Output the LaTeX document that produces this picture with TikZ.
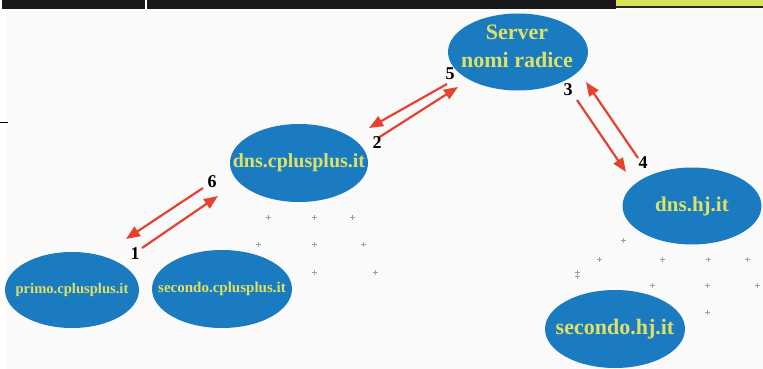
\documentclass[tikz,border=0pt]{standalone}
\usepackage{fontspec}
\setmainfont{Liberation Serif}
\usetikzlibrary{shapes.geometric,arrows.meta}
\definecolor{bg}{HTML}{FAFAFA}
\definecolor{ellblue}{HTML}{1A7BC0}
\definecolor{txtyel}{HTML}{DDE266}
\definecolor{arrred}{HTML}{E4432F}
\definecolor{barylw}{HTML}{D8E25A}
\definecolor{dotgray}{HTML}{A0A0A0}
\tikzset{
  dnsnode/.style={ellipse, fill=ellblue, inner sep=0pt, outer sep=0pt},
  dnstext/.style={text=txtyel, inner sep=0pt, align=center},
  reqarrow/.style={draw=arrred, line width=2.2pt, -{Triangle[length=14pt,width=11pt]}},
  steplabel/.style={font=\bfseries\fontsize{18}{18}\selectfont, text=black, inner sep=0pt},
  dotmark/.style={draw=dotgray, line width=0.6pt}
}
\begin{document}
\begin{tikzpicture}[x=1pt,y=-1pt]
\useasboundingbox (0,0) rectangle (763,369);
\fill[bg] (0,9) rectangle (763,369);
\fill[white] (0,9) rectangle (6,369);
% header
\fill[black!90] (2,0) rectangle (616,9);
\fill[white] (145,0) rectangle (147,10);
\fill[barylw] (616,0) rectangle (763,6);
\fill[black!85] (616,6) rectangle (763,8);
\fill[black] (0,121.5) rectangle (8,122.8);
% ellipses
\node[dnsnode, minimum width=140pt, minimum height=77pt] (root) at (518,52) {};
\node[dnsnode, minimum width=138pt, minimum height=78pt] (cpp) at (299,163) {};
\node[dnsnode, minimum width=139pt, minimum height=77pt] (hj) at (692,206) {};
\node[dnsnode, minimum width=140pt, minimum height=78pt] (shj) at (615,329) {};
\node[dnsnode, minimum width=134pt, minimum height=76pt] (primo) at (72,290) {};
\node[dnsnode, minimum width=140pt, minimum height=78pt] (scpp) at (222,289) {};
% texts
\node[dnstext, font=\bfseries\fontsize{22}{28}\selectfont] (roott) at (517,46) {Server\\nomi radice};
\node[dnstext, font=\bfseries\fontsize{20}{20}\selectfont] (cppt) at (cpp.center) {dns.cplusplus.it};
\node[dnstext, font=\bfseries\fontsize{21}{21}\selectfont] (hjt) at (hj.center) {dns.hj.it};
\node[dnstext, font=\bfseries\fontsize{22}{22}\selectfont] (shjt) at (shj.center) {secondo.hj.it};
\node[dnstext, font=\bfseries\fontsize{14.6}{15}\selectfont] (primot) at (primo.center) {primo.cplusplus.it};
\node[dnstext, font=\bfseries\fontsize{15}{15}\selectfont] (scppt) at (scpp.center) {secondo.cplusplus.it};
% arrow end points
\coordinate (a5s) at (447,84);
\coordinate (a5e) at (369,128);
\coordinate (a2s) at (378,138);
\coordinate (a2e) at (458,87);
\coordinate (a3s) at (577,100);
\coordinate (a3e) at (626,172);
\coordinate (a4s) at (638,158);
\coordinate (a4e) at (586,82);
\coordinate (a6s) at (203,188);
\coordinate (a6e) at (126,239);
\coordinate (a1s) at (142,248);
\coordinate (a1e) at (218,196);
\draw[reqarrow] (a5s) -- (a5e);
\draw[reqarrow] (a2s) -- (a2e);
\draw[reqarrow] (a3s) -- (a3e);
\draw[reqarrow] (a4s) -- (a4e);
\draw[reqarrow] (a6s) -- (a6e);
\draw[reqarrow] (a1s) -- (a1e);
% labels
\node[steplabel] (l5) at (450,74) {5};
\node[steplabel] (l2) at (377,143) {2};
\node[steplabel] (l3) at (568,90) {3};
\node[steplabel] (l4) at (643,163) {4};
\node[steplabel] (l6) at (212,182) {6};
\node[steplabel] (l1) at (135,254) {1};
% scattered small crosses
\foreach \px/\py in {268/217,314/217,352/217,258/244,314/244,363/244,314/272,375/272,577/272,623/240,599/259,662/259,708/259,747/259,577/276,652/285,707/285,757/285,707/312}{
  \draw[dotmark] (\px-2.5,\py) -- (\px+2.5,\py) (\px,\py-2.5) -- (\px,\py+2.5);
}
\end{tikzpicture}
\end{document}
